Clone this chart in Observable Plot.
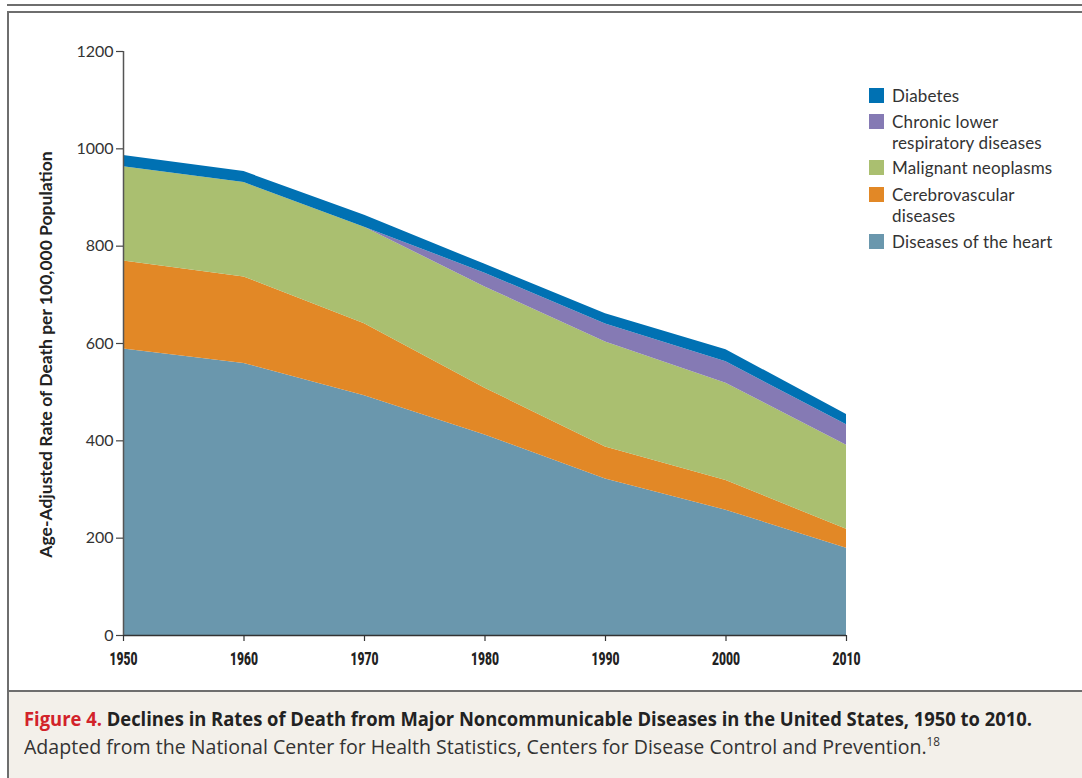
<!DOCTYPE html>
<html><head><meta charset="utf-8">
<script src="https://cdn.jsdelivr.net/npm/d3@7"></script>
<script src="https://cdn.jsdelivr.net/npm/@observablehq/plot@0.6"></script>
<style>
html,body{margin:0;padding:0;background:#fff;width:1082px;height:778px;overflow:hidden;position:relative;}
#topline{position:absolute;left:7px;top:4px;width:1075px;height:2px;background:#6e6e6e;}
#frame{position:absolute;left:7px;top:11px;width:1080px;height:780px;border-left:2px solid #6e6e6e;border-top:2px solid #6e6e6e;box-sizing:border-box;}
#chart{position:absolute;left:0;top:0;}
#legend{position:absolute;left:869px;top:0;font-family:Lato,"Noto Sans",sans-serif;font-size:17px;letter-spacing:0.15px;color:#333;}
.item{position:absolute;left:0;display:flex;align-items:flex-start;white-space:nowrap;line-height:21px;}
.sw{width:15px;height:15px;margin-top:3px;margin-right:8px;flex:none;}
#caption{position:absolute;left:9px;top:690px;width:1073px;height:88px;background:#f3f0ea;border-top:2px solid #6e6e6e;box-sizing:border-box;}
.cap{position:absolute;left:15px;white-space:nowrap;font-family:"Open Sans","Noto Sans",sans-serif;font-size:20px;line-height:24px;color:#222;transform-origin:0 50%;}
#cap1{top:15px;font-weight:bold;}
#cap1 .fig{color:#d2232a;}
#cap2{top:43px;color:#333;}
#cap2 sup{font-size:12px;vertical-align:0;position:relative;top:-8px;}
</style></head>
<body>
<div id="topline"></div>
<div id="frame"></div>
<div id="chart"></div>
<div id="legend"></div>
<div id="caption">
  <div class="cap" id="cap1"><span class="fig">Figure 4.</span> Declines in Rates of Death from Major Noncommunicable Diseases in the United States, 1950 to 2010.</div>
  <div class="cap" id="cap2">Adapted from the National Center for Health Statistics, Centers for Disease Control and Prevention.<sup>18</sup></div>
</div>
<script>
const years = [1950, 1960, 1970, 1980, 1990, 2000, 2010];
const heart = [588.8, 559.0, 492.7, 412.1, 321.8, 257.6, 179.1];
const cerebrovascular = [180.7, 177.9, 147.7, 96.2, 65.3, 60.9, 39.1];
const neoplasms = [193.9, 193.9, 198.6, 207.9, 216.0, 199.6, 172.8];
const respiratory = [0, 0, 0, 28.3, 37.2, 44.2, 42.2];
const diabetes = [23.1, 22.5, 24.3, 18.1, 20.7, 25.0, 20.8];
const causes = ["Diseases of the heart", "Cerebrovascular diseases", "Malignant neoplasms", "Chronic lower respiratory diseases", "Diabetes"];
const colors = ["#6a97ad", "#e28826", "#aabf70", "#857ab4", "#0071b3"];
const legendOrder = ["Diabetes", "Chronic lower respiratory diseases", "Malignant neoplasms", "Cerebrovascular diseases", "Diseases of the heart"];
const legendLabels = ["Diabetes", "Chronic lower<br>respiratory diseases", "Malignant neoplasms", "Cerebrovascular<br>diseases", "Diseases of the heart"];
const yTicks = [0, 200, 400, 600, 800, 1000, 1200];
const yLabel = "Age-Adjusted Rate of Death per 100,000 Population";

const series = [heart, cerebrovascular, neoplasms, respiratory, diabetes];
const data = [];
years.forEach((yr, i) => series.forEach((s, k) => data.push({year: yr, cause: causes[k], value: s[i]})));

const chart = Plot.plot({
  width: 1082, height: 690,
  marginLeft: 123, marginRight: 236, marginTop: 51, marginBottom: 55,
  x: {domain: [1950, 2010]},
  y: {domain: [0, 1200]},
  color: {domain: causes, range: colors},
  style: {background: "transparent", color: "#333", overflow: "visible"},
  marks: [
    Plot.areaY(data, {x: "year", y: "value", z: "cause", fill: "cause", order: causes}),
    Plot.ruleY([0], {stroke: "#333", strokeWidth: 1.5}),
    Plot.ruleX([1950], {y1: 0, y2: 1200, stroke: "#555", strokeWidth: 1.5}),
    Plot.axisY({ticks: yTicks, tickFormat: d => String(d), tickSize: 7, tickPadding: 3, label: null, fontSize: 16, fontFamily: "Lato", stroke: "#444", strokeWidth: 1.2}),
    Plot.axisX({ticks: years, tickFormat: d => String(d), tickSize: 6, tickPadding: 10, label: null, fontSize: 19, fontWeight: 900, fontFamily: "Roboto,'Open Sans',sans-serif", stroke: "#333", strokeWidth: 1.2, color: "#222"}),
    Plot.text([yLabel], {frameAnchor: "left", textAnchor: "middle", rotate: -90, dx: -77, dy: 11, fontSize: 17.5, fontWeight: "bold", fontFamily: "Lato", fill: "#222", text: d => d})
  ]
});
document.getElementById("chart").appendChild(chart);

// condense the bold x tick labels like the reference typeface
d3.select(chart).selectAll("[aria-label='x-axis tick label'] text")
  .style("font-size", "18.5px").style("font-weight", "900")
  .attr("textLength", 28).attr("lengthAdjust", "spacingAndGlyphs");

const legendTops = [84.5, 110.5, 156.5, 183.5, 230.5];
const legend = document.getElementById("legend");
legendOrder.forEach((c, i) => {
  const el = document.createElement("div");
  el.className = "item";
  el.style.top = legendTops[i] + "px";
  el.innerHTML = `<div class="sw" style="background:${colors[causes.indexOf(c)]}"></div><div>${legendLabels[i]}</div>`;
  legend.appendChild(el);
});

// condensed caption typeface: fit to reference widths
function fit(id, w) {
  const el = document.getElementById(id);
  const cw = el.getBoundingClientRect().width;
  el.style.transform = `scaleX(${w / cw})`;
}
fit("cap1", 1008);
fit("cap2", 916);
</script>
</body></html>
